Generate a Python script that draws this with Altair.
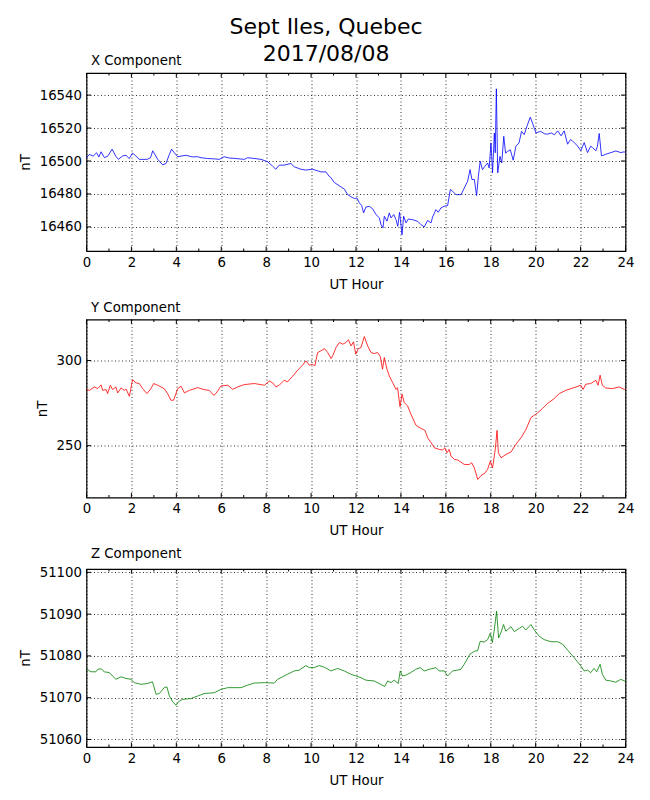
import altair as alt
import pandas as pd

# ---------------- data ----------------
hours_x = [0.0, 0.13, 0.3, 0.45, 0.55, 0.65, 0.8, 0.95, 1.14, 1.3, 1.42, 1.6, 1.76, 1.9, 2.05, 2.2, 2.35, 2.7, 2.85, 2.95,
           3.17, 3.39, 3.54, 3.69, 3.79, 3.91, 4.06, 4.43, 4.7, 4.95, 5.1, 5.39, 5.69, 5.91, 6.13, 6.35, 6.58, 7.03, 7.17, 7.5,
           7.77, 8.06, 8.28, 8.43, 8.58, 8.8, 9.1, 9.25, 9.55, 9.77, 10.07, 10.44, 10.66, 10.81, 10.88, 11.03, 11.33, 11.48, 11.63, 11.75,
           11.93, 12.04, 12.15, 12.25, 12.34, 12.44, 12.59, 12.74, 12.89, 13.04, 13.11, 13.2, 13.26, 13.38, 13.48, 13.56, 13.68, 13.78, 13.86, 13.94,
           14.05, 14.12, 14.23, 14.33, 14.52, 14.75, 14.89, 15.04, 15.19, 15.34, 15.41, 15.56, 15.66, 15.78, 15.93, 16.08, 16.2, 16.3, 16.45, 16.68,
           16.86, 16.97, 17.08, 17.16, 17.27, 17.37, 17.45, 17.53, 17.63, 17.74, 17.86, 17.93, 18.01, 18.08, 18.16, 18.2, 18.25, 18.31, 18.41, 18.49,
           18.58, 18.66, 18.75, 18.87, 19.0, 19.12, 19.26, 19.37, 19.49, 19.61, 19.76, 19.86, 20.01, 20.21, 20.4, 20.53, 20.7, 20.83, 20.98, 21.13,
           21.27, 21.42, 21.55, 21.64, 21.86, 22.01, 22.16, 22.31, 22.45, 22.53, 22.68, 22.75, 22.83, 22.93, 23.12, 23.35, 23.57, 23.79, 23.94, 24.0]
x_comp = [16502, 16504, 16503, 16505, 16502.5, 16505.6, 16502, 16503, 16507.2, 16503, 16501, 16503, 16503.5, 16501.5, 16504.8, 16503, 16501, 16501, 16502, 16506.2,
          16501, 16497.7, 16498.5, 16504, 16507.2, 16505, 16502.6, 16503.5, 16502.5, 16502.6, 16502, 16501.5, 16501.3, 16501, 16502.6, 16501.8, 16501.6, 16501, 16502, 16501.5,
          16501, 16499.6, 16497, 16495, 16497.5, 16497.5, 16498.5, 16496.5, 16495, 16494.5, 16495, 16493.4, 16493.4, 16490.6, 16490, 16487, 16484.3, 16483, 16479.6, 16478.5,
          16477.2, 16477.6, 16474.6, 16473, 16468.5, 16472.1, 16472.5, 16471, 16467.5, 16465.5, 16461.5, 16459.4, 16466.5, 16463.5, 16468.5, 16465.5, 16467.5, 16464.5, 16460.4, 16468.9,
          16455.3, 16466.5, 16462.5, 16464.8, 16464.4, 16463.4, 16461.4, 16460, 16464, 16462.4, 16466, 16470.5, 16468.9, 16471.5, 16472.6, 16473, 16482.7, 16481.7, 16479.6, 16479.6,
          16484.7, 16487.7, 16494.8, 16488.8, 16488.8, 16479, 16490.8, 16499.9, 16494.8, 16496.8, 16498.8, 16495.8, 16511, 16492.8, 16517, 16505, 16543.8, 16492.8, 16502.8, 16498.8,
          16515, 16504.8, 16505.8, 16506.8, 16500.5, 16509, 16511, 16518, 16516, 16521, 16526.6, 16523, 16517, 16518, 16516.5, 16516.3, 16517, 16515.9, 16518.3, 16515.3,
          16518.3, 16510.2, 16513, 16512.2, 16509.2, 16506.2, 16511.2, 16505.1, 16509, 16508.2, 16506.2, 16509, 16516.7, 16503.1, 16504.1, 16505.1, 16506.1, 16505.1, 16505.6, 16505]

hours_y = [0.0, 0.13, 0.35, 0.5, 0.65, 0.72, 0.87, 0.94, 1.06, 1.16, 1.31, 1.39, 1.54, 1.68, 1.76, 1.91, 2.05, 2.2, 2.35, 2.5,
           2.69, 2.87, 2.99, 3.17, 3.46, 3.61, 3.76, 3.88, 4.06, 4.21, 4.36, 4.58, 4.95, 5.24, 5.47, 5.66, 5.76, 5.99, 6.29, 6.51,
           6.73, 7.03, 7.47, 7.92, 8.14, 8.29, 8.44, 8.58, 8.8, 8.95, 9.18, 9.4, 9.62, 9.77, 9.92, 10.07, 10.17, 10.29, 10.44, 10.59,
           10.74, 10.89, 10.96, 11.11, 11.26, 11.41, 11.55, 11.66, 11.78, 11.89, 11.99, 12.1, 12.22, 12.37, 12.52, 12.67, 12.81, 12.96, 13.08, 13.18,
           13.26, 13.38, 13.48, 13.63, 13.78, 13.85, 13.96, 14.05, 14.15, 14.3, 14.45, 14.67, 14.89, 15.07, 15.19, 15.34, 15.49, 15.71, 15.86, 15.96,
           16.05, 16.15, 16.23, 16.38, 16.53, 16.67, 16.82, 17.05, 17.15, 17.27, 17.42, 17.57, 17.72, 17.86, 17.98, 18.08, 18.2, 18.28, 18.34, 18.46,
           18.68, 18.9, 19.12, 19.35, 19.57, 19.79, 20.08, 20.3, 20.52, 20.82, 21.05, 21.34, 21.71, 22.01, 22.11, 22.23, 22.45, 22.68, 22.78, 22.87,
           22.97, 23.12, 23.42, 23.72, 23.94, 24.0]
y_comp = [282.9, 282.5, 284.5, 283.5, 285.7, 282.5, 283, 280.6, 285.5, 283, 284.5, 281, 283.9, 282.5, 283.3, 279, 288.8, 286.9, 286.5, 283.5,
          280.6, 283.5, 286.5, 285.5, 283.5, 280.6, 276.7, 276.7, 283.5, 284.9, 281, 282.5, 284.1, 282.9, 282.5, 279.6, 280.6, 285.1, 285.5, 283.1,
          284.5, 285.9, 286.5, 285.5, 288, 286.9, 284.5, 285.5, 288.4, 287.5, 290.8, 294.3, 297.3, 299.8, 297.3, 297.8, 296.9, 304.7, 305.7, 307,
          304.7, 301.2, 302.7, 307.6, 310.6, 309.6, 310.6, 312.2, 308.6, 311, 303.7, 307, 307.6, 314.1, 308.6, 304.7, 304.1, 304.7, 302.4, 294.9,
          301.8, 294.9, 291, 287.1, 283.1, 284.1, 272.9, 280.2, 275.3, 273.3, 268.4, 262, 260.2, 259, 254.7, 251.8, 248.8, 247.8, 247.5, 248.8,
          245.9, 247.8, 243.9, 242, 241.6, 240.4, 239, 239, 240, 237, 230.2, 232.5, 233.7, 236.1, 241, 237, 247.8, 259, 245.9, 242.9,
          244.9, 246.3, 250.8, 254.7, 259.6, 266.5, 269.2, 271.8, 274.7, 277.6, 280.6, 282.5, 284.1, 285.5, 283, 286.1, 286.5, 288.4, 285.5, 291.4,
          285.5, 283.9, 283.5, 284.5, 283.1, 283]

hours_z = [0.0, 0.2, 0.42, 0.5, 0.65, 0.79, 1.02, 1.16, 1.31, 1.54, 1.76, 1.98, 2.13, 2.43, 2.72, 2.94, 3.1, 3.24, 3.46, 3.58,
           3.69, 3.84, 3.99, 4.13, 4.28, 4.65, 4.95, 5.24, 5.69, 5.99, 6.29, 6.88, 7.17, 7.47, 7.92, 8.36, 8.51, 8.73, 8.95, 9.25,
           9.47, 9.77, 9.92, 10.14, 10.36, 10.59, 10.88, 11.18, 11.48, 11.77, 12.0, 12.22, 12.44, 12.81, 13.1, 13.28, 13.41, 13.56, 13.7, 13.88,
           13.97, 14.07, 14.22, 14.44, 14.66, 14.86, 15.04, 15.26, 15.56, 15.7, 15.93, 16.08, 16.3, 16.52, 16.67, 16.82, 17.07, 17.3, 17.41, 17.53,
           17.71, 17.86, 17.98, 18.07, 18.15, 18.26, 18.35, 18.45, 18.57, 18.67, 18.9, 19.05, 19.27, 19.42, 19.56, 19.79, 19.94, 20.16, 20.38, 20.68,
           20.98, 21.2, 21.42, 21.71, 22.01, 22.16, 22.31, 22.45, 22.6, 22.72, 22.87, 22.97, 23.12, 23.35, 23.57, 23.79, 23.94, 24.0]
z_comp = [51076.9, 51076.2, 51076.2, 51076.8, 51076.9, 51076.2, 51076, 51075.2, 51074.4, 51075, 51074.6, 51074.4, 51073.6, 51073.2, 51073.4, 51073.8, 51070.8, 51071, 51072.4, 51072.6,
          51070.4, 51069, 51068.2, 51069.2, 51069.6, 51069.8, 51070.4, 51071, 51071.2, 51072, 51072.4, 51072.4, 51073, 51073.5, 51073.6, 51073.5, 51074.4, 51075, 51075.6, 51076.4,
          51076.6, 51077.7, 51077.2, 51077.2, 51077.7, 51077.3, 51076.4, 51077, 51076.4, 51075.6, 51075.2, 51074.8, 51074.2, 51074, 51073.2, 51072.7, 51074, 51073.6, 51074.2, 51073.4,
          51076.4, 51075.2, 51075.4, 51076, 51076.8, 51077.2, 51076.4, 51076.8, 51077.2, 51076.4, 51076.4, 51075.2, 51076.4, 51076.6, 51076.8, 51078, 51080.4, 51081.2, 51081.2, 51083.5,
          51083.3, 51083.9, 51085.4, 51083.2, 51085.9, 51090.7, 51084.3, 51085.5, 51087.5, 51085.9, 51087, 51085.8, 51086.6, 51087.1, 51086.2, 51087.5, 51086.2, 51084.7, 51083.9, 51083.4,
          51083.4, 51082.8, 51081.4, 51079.6, 51077.6, 51076.4, 51076.6, 51076, 51077, 51076.2, 51078, 51075.6, 51074.2, 51074, 51073.7, 51074.4, 51074, 51074]

x_ticks = [16460, 16480, 16500, 16520, 16540]
y_ticks = [250, 300]
z_ticks = [51060, 51070, 51080, 51090, 51100]
hour_major = list(range(0, 25, 2))
hour_minor = list(range(1, 24, 2))

FONT = "DejaVu Sans"
W, H = 539, 178
FS = 13.3


def panel(t, v, color, title, dom, ticks):
    df = pd.DataFrame({"t": t, "v": v})
    xs = alt.Scale(domain=[0, 24], nice=False, zero=False)
    ys = alt.Scale(domain=dom, nice=False, zero=False)
    xaxis = alt.Axis(values=hour_major, title="UT Hour", ticks=False, domain=False, grid=True,
                     format="d", labelPadding=4, titlePadding=9, labelFlush=False)
    yaxis = alt.Axis(values=ticks, title="nT", ticks=False, domain=False, grid=True,
                     format="d", labelPadding=5, titlePadding=7)
    X = alt.X("t:Q", scale=xs, axis=xaxis)
    Y = alt.Y("v:Q", scale=ys, axis=yaxis)
    line = alt.Chart(df).mark_line(color=color, strokeWidth=0.8).encode(x=X, y=Y)
    layers = [line]
    for hrs, ln in ((hour_major, 4.5), (hour_minor, 2.5)):
        hd = pd.DataFrame({"t": hrs})
        layers.append(alt.Chart(hd).mark_rule(color="black", strokeWidth=1).encode(
            x=X, y=alt.value(0), y2=alt.value(ln)))
        layers.append(alt.Chart(hd).mark_rule(color="black", strokeWidth=1).encode(
            x=X, y=alt.value(H - ln), y2=alt.value(H)))
    td = pd.DataFrame({"v": ticks})
    layers.append(alt.Chart(td).mark_rule(color="black", strokeWidth=1).encode(
        y=Y, x=alt.value(0), x2=alt.value(4.5)))
    layers.append(alt.Chart(td).mark_rule(color="black", strokeWidth=1).encode(
        y=Y, x=alt.value(W - 4.5), x2=alt.value(W)))
    return alt.layer(*layers).properties(
        width=W, height=H,
        title=alt.TitleParams(title, anchor="start", frame="group", dx=4.5, offset=5,
                              fontSize=FS, font=FONT, fontWeight="normal", color="black"),
    )


p1 = panel(hours_x, x_comp, "#0000ff", "X Component", [16445.4, 16553.4], x_ticks)
p2 = panel(hours_y, y_comp, "#ff0000", "Y Component", [219.6, 324.1], y_ticks)
p3 = panel(hours_z, z_comp, "#008000", "Z Component", [51058.2, 51100.8], z_ticks)

chart = alt.vconcat(p1, p2, p3, spacing=7.5).properties(
    title=alt.TitleParams(["Sept Iles, Quebec", "2017/08/08"], anchor="middle", fontSize=22,
                          lineHeight=27, font=FONT, fontWeight="normal", color="black", offset=-12),
    background="white",
    padding={"left": 9.5, "top": 7, "right": 5, "bottom": 5},
).configure_view(stroke="black", strokeWidth=1.2).configure_axis(
    labelFont=FONT, labelFontSize=FS, labelColor="black",
    titleFont=FONT, titleFontSize=FS, titleFontWeight="normal", titleColor="black",
    gridColor="black", gridDash=[1, 2.5], gridWidth=0.8, gridOpacity=1,
)

chart.save("out.html", embed_options={"renderer": "svg", "actions": False})
